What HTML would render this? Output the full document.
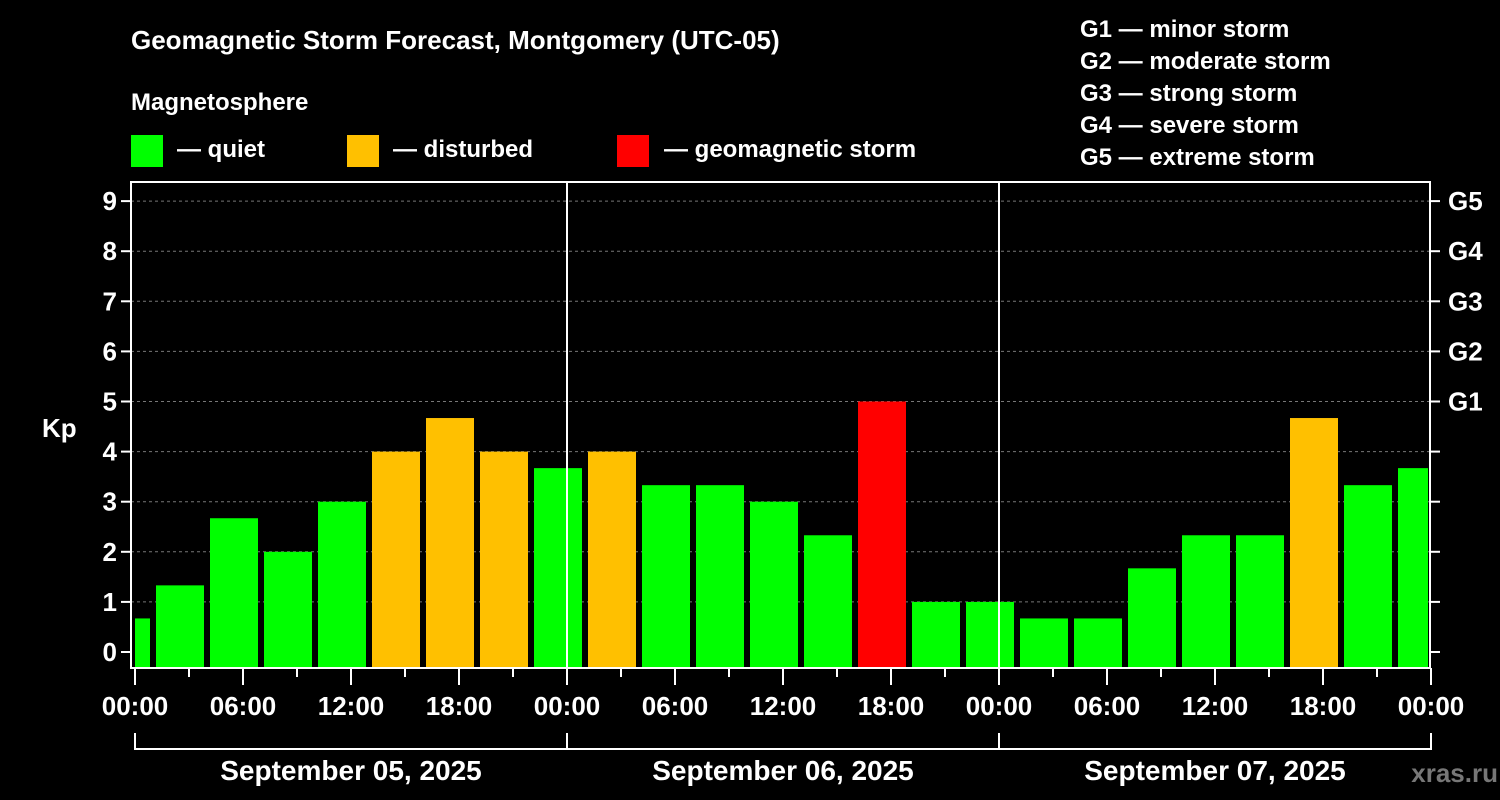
<!DOCTYPE html>
<html><head><meta charset="utf-8"><style>
html,body{margin:0;padding:0;background:#000;}
svg{display:block;font-family:"Liberation Sans",Arial,sans-serif;font-weight:bold;}
</style></head><body>
<svg id="chart" width="1500" height="800" viewBox="0 0 1500 800">
<rect x="0" y="0" width="1500" height="800" fill="#000"/>
<text x="131" y="49" fill="#fff" font-size="26">Geomagnetic Storm Forecast, Montgomery (UTC-05)</text>
<text x="131" y="110" fill="#fff" font-size="24">Magnetosphere</text>
<g><rect x="131" y="135" width="32" height="32" fill="#00ff00"/><text x="177" y="157" fill="#fff" font-size="24">— quiet</text></g>
<g><rect x="347" y="135" width="32" height="32" fill="#ffc000"/><text x="393" y="157" fill="#fff" font-size="24">— disturbed</text></g>
<g><rect x="617" y="135" width="32" height="32" fill="#ff0000"/><text x="664" y="157" fill="#fff" font-size="24">— geomagnetic storm</text></g>
<g fill="#fff" font-size="24">
<text x="1080" y="37">G1 — minor storm</text>
<text x="1080" y="69">G2 — moderate storm</text>
<text x="1080" y="101">G3 — strong storm</text>
<text x="1080" y="133">G4 — severe storm</text>
<text x="1080" y="165">G5 — extreme storm</text>
</g>
<text x="42" y="437" fill="#fff" font-size="26">Kp</text>
<text x="1498" y="782" fill="#777" font-size="26" text-anchor="end">xras.ru</text>
<g id="grid"></g><g id="bars"></g><g id="axes"></g>
</svg>
<script>
const kpValues=[0.67,1.33,2.67,2,3,4,4.67,4,3.67,4,3.33,3.33,3,2.33,5,1,1,0.67,0.67,1.67,2.33,2.33,4.67,3.33,3.67];
const yTicks=[0,1,2,3,4,5,6,7,8,9];
const gLabels=["G1","G2","G3","G4","G5"];
const xTickLabels=["00:00","06:00","12:00","18:00","00:00","06:00","12:00","18:00","00:00","06:00","12:00","18:00","00:00"];
const dayLabels=["September 05, 2025","September 06, 2025","September 07, 2025"];
const NS="http://www.w3.org/2000/svg";
const X0=135,PXH=18,L=131,R=1430,T=182,B=668;
const y=k=>652-50.1*k;
const x=h=>X0+h*PXH;
function mk(p,tag,a){const e=document.createElementNS(NS,tag);for(const k in a)e.setAttribute(k,a[k]);p.appendChild(e);return e;}
const grid=document.getElementById('grid'),bars=document.getElementById('bars'),axes=document.getElementById('axes');
yTicks.forEach(k=>{if(k>0){const g=mk(grid,'line',{x1:L,x2:R,y1:y(k),y2:y(k),stroke:'#777','stroke-dasharray':'3,3','stroke-width':1});

}
mk(axes,'line',{x1:L-10,x2:L,y1:y(k),y2:y(k),stroke:'#fff','stroke-width':2});
mk(axes,'line',{x1:R,x2:R+10,y1:y(k),y2:y(k),stroke:'#fff','stroke-width':2});
const t=mk(axes,'text',{x:L-14,y:y(k)+9,fill:'#fff','font-size':26,'text-anchor':'end'});t.textContent=k;

});
gLabels.forEach((g,i)=>{const t=mk(axes,'text',{x:R+18,y:y(5+i)+9,fill:'#fff','font-size':26});t.textContent=g;

});
kpValues.forEach((v,i)=>{let s=-2+3*i,e=s+3;let x1=x(s)+3,x2=x(e)-3;if(x1<X0)x1=X0;if(x2>R-2)x2=R-2;
const c=v>=5?'#ff0000':(v>=4?'#ffc000':'#00ff00');
const r=mk(bars,'rect',{x:x1,y:y(v),width:x2-x1,height:B-y(v),fill:c});

});
[1,2].forEach(d=>{const l=mk(axes,'line',{x1:x(24*d),x2:x(24*d),y1:T,y2:B,stroke:'#fff','stroke-width':2});

});
mk(axes,'rect',{x:L,y:T,width:R-L,height:B-T,fill:'none',stroke:'#fff','stroke-width':2});
for(let i=0;i<=24;i++){const xx=x(3*i);const maj=i%2==0;mk(axes,'line',{x1:xx,x2:xx,y1:B,y2:B+(maj?17:9),stroke:'#fff','stroke-width':2});}
xTickLabels.forEach((s,i)=>{const t=mk(axes,'text',{x:x(6*i),y:715,fill:'#fff','font-size':26,'text-anchor':'middle'});t.textContent=s;

});
dayLabels.forEach((s,i)=>{mk(axes,'line',{x1:x(24*i),x2:x(24*i),y1:733,y2:750,stroke:'#fff','stroke-width':2});
mk(axes,'line',{x1:x(24*i),x2:x(24*(i+1)),y1:749,y2:749,stroke:'#fff','stroke-width':2});
const t=mk(axes,'text',{x:x(24*i+12),y:780,fill:'#fff','font-size':28,'text-anchor':'middle'});t.textContent=s;

});
mk(axes,'line',{x1:x(72),x2:x(72),y1:733,y2:750,stroke:'#fff','stroke-width':2});
</script>
</body></html>
